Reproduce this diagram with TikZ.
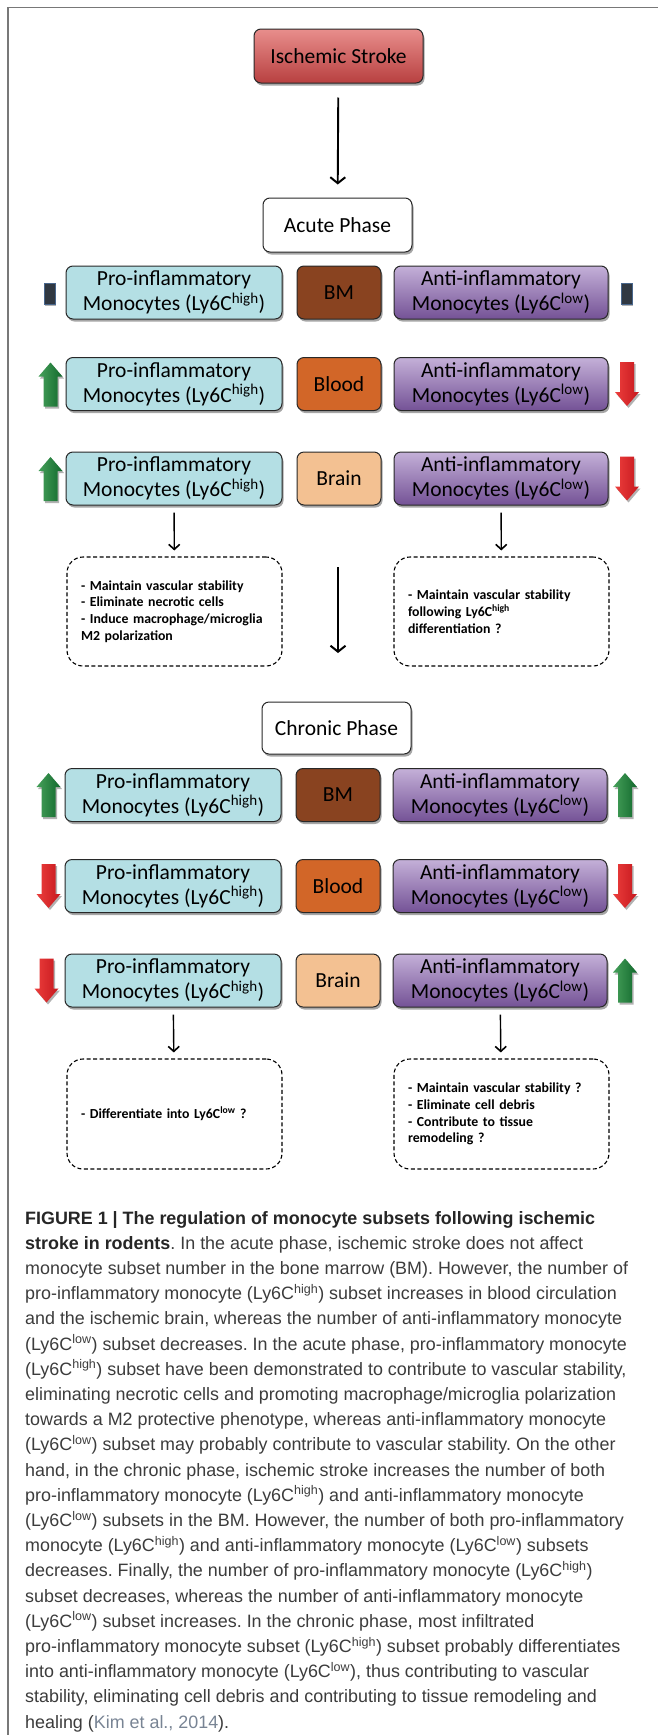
\documentclass[tikz,border=0pt]{standalone}
\usepackage{fontspec}
\setmainfont{Carlito}
\newfontfamily\capfont{Liberation Sans}
\usetikzlibrary{shadows,arrows.meta}
\frenchspacing
\definecolor{framegray}{RGB}{120,120,120}
\definecolor{boxline}{RGB}{40,40,40}
\definecolor{strtop}{RGB}{232,142,140}
\definecolor{strbot}{RGB}{184,64,64}
\definecolor{procol}{RGB}{180,223,228}
\definecolor{bmcol}{RGB}{137,67,32}
\definecolor{bloodcol}{RGB}{210,102,40}
\definecolor{braincol}{RGB}{243,193,146}
\definecolor{antitop}{RGB}{196,176,216}
\definecolor{antibot}{RGB}{116,82,150}
\definecolor{gl}{RGB}{70,160,90}
\definecolor{gd}{RGB}{18,105,45}
\definecolor{rl}{RGB}{236,62,60}
\definecolor{rd}{RGB}{198,24,30}
\definecolor{indfill}{RGB}{48,56,66}
\definecolor{indline}{RGB}{72,102,140}
\definecolor{capgray}{RGB}{60,60,60}
\definecolor{linkgray}{RGB}{120,132,148}
\begin{document}
\frenchspacing
\begin{tikzpicture}[x=1pt,y=-1pt,
  box/.style={draw=boxline, line width=1pt, rounded corners=7pt,
    minimum height=53pt, inner sep=0pt, align=center,
    font=\fontsize{21.5}{25}\selectfont,
    drop shadow={shadow xshift=1.5pt, shadow yshift=-2.5pt, opacity=0.35, fill=black}},
  pro/.style={box, fill=procol, minimum width=216pt},
  mid/.style={box, minimum width=84pt},
  anti/.style={box, top color=antitop, bottom color=antibot, minimum width=214pt},
  phase/.style={box, fill=white, minimum width=149pt, minimum height=54pt},
  dbox/.style={draw=black, dash pattern=on 4pt off 2.5pt, line width=1.1pt,
    rounded corners=16pt, minimum width=215pt, minimum height=109pt,
    text width=187pt, inner xsep=14pt, inner ysep=0pt, align=left,
    font=\fontsize{13.8}{16.7}\selectfont\bfseries},
  link/.style={line width=1.9pt, -{Straight Barb[length=6pt,width=15pt,line width=2pt]}},
  slink/.style={line width=1.4pt, -{Straight Barb[length=5pt,width=11pt,line width=1.6pt]}},
  indic/.style={minimum width=11pt, minimum height=21pt, inner sep=0pt,
    fill=indfill, draw=indline, line width=0.8pt,
    drop shadow={shadow xshift=1pt, shadow yshift=-1.5pt, opacity=0.3, fill=black}},
  ashape/.style={drop shadow={shadow xshift=1.5pt, shadow yshift=-2pt, opacity=0.3, fill=black}},
  uparr/.pic={\path[ashape, left color=gl, right color=gd]
    (0,-22) -- (12,-8) -- (7,-8) -- (7,22) -- (-7,22) -- (-7,-8) -- (-12,-8) -- cycle;},
  downarr/.pic={\path[ashape, left color=rl, right color=rd]
    (0,22) -- (12,8) -- (7,8) -- (7,-22) -- (-7,-22) -- (-7,8) -- (-12,8) -- cycle;},
  captext/.style={anchor=base west, inner sep=0pt, text=capgray,
    font=\capfont\fontsize{17.9}{25.2}\selectfont}
]
\useasboundingbox (0,0) rectangle (658,1735);
\fill[white] (0,0) rectangle (658,1735);
\draw[framegray, line width=1.6pt] (658,7.5) -- (8,7.5) -- (8,1735);

% top
\node[box, top color=strtop, bottom color=strbot, minimum width=169pt, minimum height=54pt] (stroke) at (338.5,56) {Ischemic Stroke};
\node[phase] (acute) at (337.5,225) {Acute Phase};
\draw[link, shorten <=14pt, shorten >=13pt] (stroke) -- (acute);

% acute rows
\node[pro] (p1) at (174,292.5) {Pro-inflammatory\\Monocytes (Ly6C\textsuperscript{high})};
\node[mid, fill=bmcol] (m1) at (339,292.5) {BM};
\node[anti] (a1) at (501,292.5) {Anti-inflammatory\\Monocytes (Ly6C\textsuperscript{low})};
\node[indic] (il) at (49.5,293.5) {};
\node[indic] (ir) at (626.5,293.5) {};

\node[pro] (p2) at (174,384) {Pro-inflammatory\\Monocytes (Ly6C\textsuperscript{high})};
\node[mid, fill=bloodcol] (m2) at (339,384) {Blood};
\node[anti] (a2) at (501,384) {Anti-inflammatory\\Monocytes (Ly6C\textsuperscript{low})};
\pic at (50.5,384.5) {uparr};
\pic at (627,384) {downarr};

\node[pro] (p3) at (174,478.5) {Pro-inflammatory\\Monocytes (Ly6C\textsuperscript{high})};
\node[mid, fill=braincol] (m3) at (339,478.5) {Brain};
\node[anti] (a3) at (501,478.5) {Anti-inflammatory\\Monocytes (Ly6C\textsuperscript{low})};
\pic at (50.5,479) {uparr};
\pic at (627,478.5) {downarr};

\node[dbox] (d1) at (174.5,611.5) {- Maintain vascular stability\\- Eliminate necrotic cells\\- Induce macrophage/microglia\\M2 polarization};
\node[dbox] (d2) at (501.5,611.5) {- Maintain vascular stability\\following Ly6C\textsuperscript{high}\\differentiation ?};
\draw[slink, shorten <=7pt, shorten >=6pt] (p3) -- (d1);
\draw[slink, shorten <=7pt, shorten >=6pt] (a3) -- (d2);

\coordinate (mt) at (338,567);
\coordinate (mb) at (338,653);
\draw[link] (mt) -- (mb);

% chronic
\node[phase, minimum height=52pt] (chronic) at (336.5,728) {Chronic Phase};

\node[pro] (p4) at (173,795) {Pro-inflammatory\\Monocytes (Ly6C\textsuperscript{high})};
\node[mid, fill=bmcol] (m4) at (338,795) {BM};
\node[anti] (a4) at (500,795) {Anti-inflammatory\\Monocytes (Ly6C\textsuperscript{low})};
\pic at (48.5,795) {uparr};
\pic at (625,795) {uparr};

\node[pro] (p5) at (173,886) {Pro-inflammatory\\Monocytes (Ly6C\textsuperscript{high})};
\node[mid, fill=bloodcol] (m5) at (338,886) {Blood};
\node[anti] (a5) at (500,886) {Anti-inflammatory\\Monocytes (Ly6C\textsuperscript{low})};
\pic at (48.5,886) {downarr};
\pic at (625,886) {downarr};

\node[pro] (p6) at (173,980.5) {Pro-inflammatory\\Monocytes (Ly6C\textsuperscript{high})};
\node[mid, fill=braincol] (m6) at (338,980.5) {Brain};
\node[anti] (a6) at (500,980.5) {Anti-inflammatory\\Monocytes (Ly6C\textsuperscript{low})};
\pic at (46.5,980.5) {downarr};
\pic at (625,980.5) {uparr};

\node[dbox, minimum height=110pt] (d3) at (174.5,1114) {- Differentiate into Ly6C\textsuperscript{low} ?\\[10pt]};
\node[dbox, minimum height=110pt] (d4) at (501.5,1114) {- Maintain vascular stability ?\\- Eliminate cell debris\\- Contribute to tissue\\remodeling ?};
\draw[slink, shorten <=7pt, shorten >=6pt] (p6) -- (d3);
\draw[slink, shorten <=7pt, shorten >=6pt] (a6) -- (d4);

% caption
\node[captext] (c1) at (25,1224.0) {\bfseries\color{black!85}FIGURE 1 | The regulation of monocyte subsets following ischemic};
\node[captext] (c2) at (25,1249.2) {{\bfseries\color{black!85}stroke in rodents}. In the acute phase, ischemic stroke does not affect};
\node[captext] (c3) at (25,1274.4) {monocyte subset number in the bone marrow (BM). However, the number of};
\node[captext] (c4) at (25,1299.6) {pro-inflammatory monocyte (Ly6C\textsuperscript{high}) subset increases in blood circulation};
\node[captext] (c5) at (25,1324.8) {and the ischemic brain, whereas the number of anti-inflammatory monocyte};
\node[captext] (c6) at (25,1350.0) {(Ly6C\textsuperscript{low}) subset decreases. In the acute phase, pro-inflammatory monocyte};
\node[captext] (c7) at (25,1375.2) {(Ly6C\textsuperscript{high}) subset have been demonstrated to contribute to vascular stability,};
\node[captext] (c8) at (25,1400.4) {eliminating necrotic cells and promoting macrophage/microglia polarization};
\node[captext] (c9) at (25,1425.6) {towards a M2 protective phenotype, whereas anti-inflammatory monocyte};
\node[captext] (c10) at (25,1450.8) {(Ly6C\textsuperscript{low}) subset may probably contribute to vascular stability. On the other};
\node[captext] (c11) at (25,1476.0) {hand, in the chronic phase, ischemic stroke increases the number of both};
\node[captext] (c12) at (25,1501.2) {pro-inflammatory monocyte (Ly6C\textsuperscript{high}) and anti-inflammatory monocyte};
\node[captext] (c13) at (25,1526.4) {(Ly6C\textsuperscript{low}) subsets in the BM. However, the number of both pro-inflammatory};
\node[captext] (c14) at (25,1551.6) {monocyte (Ly6C\textsuperscript{high}) and anti-inflammatory monocyte (Ly6C\textsuperscript{low}) subsets};
\node[captext] (c15) at (25,1576.8) {decreases. Finally, the number of pro-inflammatory monocyte (Ly6C\textsuperscript{high})};
\node[captext] (c16) at (25,1602.0) {subset decreases, whereas the number of anti-inflammatory monocyte};
\node[captext] (c17) at (25,1627.2) {(Ly6C\textsuperscript{low}) subset increases. In the chronic phase, most infiltrated};
\node[captext] (c18) at (25,1652.4) {pro-inflammatory monocyte subset (Ly6C\textsuperscript{high}) subset probably differentiates};
\node[captext] (c19) at (25,1677.6) {into anti-inflammatory monocyte (Ly6C\textsuperscript{low}), thus contributing to vascular};
\node[captext] (c20) at (25,1702.8) {stability, eliminating cell debris and contributing to tissue remodeling and};
\node[captext] (c21) at (25,1728.0) {healing ({\color{linkgray}Kim et al., 2014}).};
\end{tikzpicture}
\end{document}
